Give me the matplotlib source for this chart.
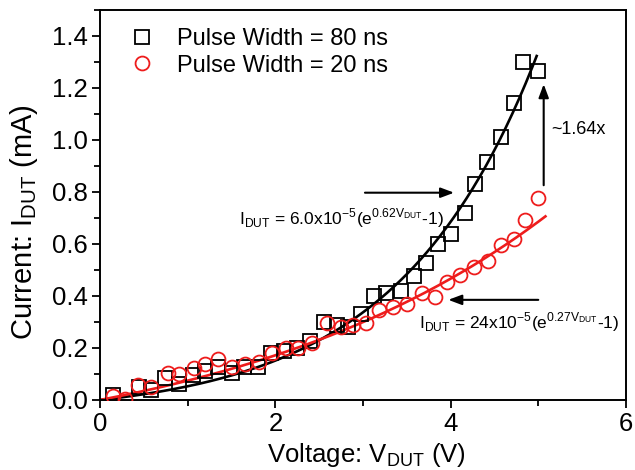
import numpy as np
import matplotlib
matplotlib.use("Agg")
import matplotlib.pyplot as plt
from matplotlib.ticker import MultipleLocator, FormatStrFormatter

plt.rcParams["font.family"] = ["Liberation Sans", "DejaVu Sans"]
plt.rcParams["mathtext.fontset"] = "custom"
plt.rcParams["mathtext.rm"] = "Liberation Sans"

# Pulse Width = 80 ns (black squares)
v_80 = [0.15, 0.44, 0.58, 0.74, 0.90, 1.06, 1.20, 1.34, 1.50, 1.64, 1.80, 1.95,
        2.10, 2.25, 2.40, 2.56, 2.70, 2.83, 2.98, 3.12, 3.26, 3.43, 3.58, 3.72,
        3.85, 4.00, 4.16, 4.28, 4.41, 4.57, 4.72, 4.82, 5.00]
i_80 = [0.02, 0.05, 0.04, 0.085, 0.06, 0.095, 0.11, 0.125, 0.105, 0.125, 0.125, 0.18,
        0.19, 0.20, 0.225, 0.30, 0.29, 0.28, 0.33, 0.40, 0.41, 0.42, 0.475, 0.525,
        0.60, 0.64, 0.72, 0.83, 0.915, 1.01, 1.14, 1.30, 1.265]

# Pulse Width = 20 ns (red circles)
v_20 = [0.15, 0.28, 0.43, 0.58, 0.77, 0.90, 1.07, 1.20, 1.34, 1.50, 1.65, 1.81,
        1.96, 2.12, 2.26, 2.42, 2.59, 2.75, 2.88, 3.03, 3.18, 3.34, 3.50, 3.67,
        3.82, 3.96, 4.11, 4.26, 4.42, 4.57, 4.72, 4.85, 5.00]
i_20 = [0.015, 0.005, 0.058, 0.05, 0.103, 0.10, 0.122, 0.14, 0.157, 0.126, 0.14, 0.146,
        0.18, 0.20, 0.20, 0.22, 0.296, 0.28, 0.29, 0.297, 0.346, 0.358, 0.37, 0.41,
        0.395, 0.455, 0.48, 0.51, 0.535, 0.597, 0.62, 0.693, 0.778]

# fit curves, I = a*(exp(b*V)-1) in mA, drawn up to vmax
fit_80 = (0.06, 0.63, 4.98)
fit_20 = (0.24, 0.27, 5.08)

RED = "#ee1c1c"

fig = plt.figure(figsize=(6.35, 4.70), dpi=100)
ax = fig.add_axes([0.1575, 0.149, 0.8285, 0.830])

for (a, b, vmax), col in [(fit_80, "black"), (fit_20, RED)]:
    vv = np.linspace(0, vmax, 200)
    ax.plot(vv, a * (np.exp(b * vv) - 1), color=col, lw=1.9, zorder=2)

ax.plot(v_80, i_80, ls="none", marker="s", ms=9.5, mfc="none", mec="black",
        mew=1.3, label="Pulse Width = 80 ns", zorder=3)
ax.plot(v_20, i_20, ls="none", marker="o", ms=10, mfc="none", mec=RED,
        mew=1.3, label="Pulse Width = 20 ns", zorder=3)

ax.set_xlim(0, 6)
ax.set_ylim(0, 1.5)
ax.xaxis.set_major_locator(MultipleLocator(2))
ax.xaxis.set_minor_locator(MultipleLocator(1))
ax.yaxis.set_major_locator(MultipleLocator(0.2))
ax.yaxis.set_minor_locator(MultipleLocator(0.1))
ax.yaxis.set_major_formatter(FormatStrFormatter("%.1f"))
ax.tick_params(which="both", direction="out", top=False, right=False,
               labelsize=18.5, width=1.3)
ax.tick_params(which="major", length=6, pad=3)
ax.tick_params(which="minor", length=4)
for s in ax.spines.values():
    s.set_linewidth(1.4)

ax.set_xlabel(r"Voltage: V$_\mathregular{DUT}$ (V)", fontsize=18.5, va="top")
ax.xaxis.set_label_coords(0.506, -0.105)
ax.set_ylabel(r"Current: I$_\mathregular{DUT}$ (mA)", fontsize=21, va="bottom")
ax.yaxis.set_label_coords(-0.114, 0.455)

ax.legend(loc="upper left", bbox_to_anchor=(0.035, 0.99), frameon=False,
          fontsize=17, handlelength=0.8, handletextpad=1.1, labelspacing=0.2,
          borderaxespad=0.2)

# annotations
arr = dict(arrowstyle="-|>,head_length=0.8,head_width=0.3", color="black", lw=1.5)
ax.annotate("", xy=(4.07, 0.797), xytext=(2.99, 0.797), arrowprops=arr)
ax.text(1.59, 0.70, r"I$_\mathregular{DUT}$ = 6.0x10$^\mathregular{-5}$(e$^\mathregular{0.62V_{DUT}}$-1)",
        fontsize=12.5, va="center", ha="left")
ax.annotate("", xy=(3.94, 0.385), xytext=(5.03, 0.385), arrowprops=arr)
ax.text(3.64, 0.30, r"I$_\mathregular{DUT}$ = 24x10$^\mathregular{-5}$(e$^\mathregular{0.27V_{DUT}}$-1)",
        fontsize=12.5, va="center", ha="left")
ax.annotate("", xy=(5.06, 1.225), xytext=(5.06, 0.815), arrowprops=arr)
ax.text(5.15, 1.04, "~1.64x", fontsize=13, va="center", ha="left")

fig.savefig("out.png", dpi=100)
